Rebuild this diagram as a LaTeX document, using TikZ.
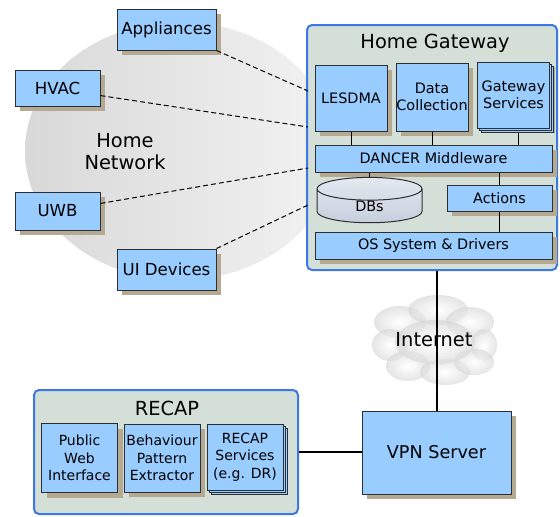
\documentclass[tikz,border=0pt]{standalone}
\usepackage{fontspec}
\setmainfont{DejaVu Sans}
\usetikzlibrary{shapes.geometric,shadows}
\definecolor{boxblue}{HTML}{99CCFF}
\definecolor{boxline}{HTML}{2B2F33}
\definecolor{shadowbrown}{HTML}{B5A991}
\definecolor{framefill}{HTML}{D4DFD8}
\definecolor{frameblue}{HTML}{3C78E6}
\definecolor{dbleft}{HTML}{E4E9F1}
\definecolor{dbright}{HTML}{C7CFDC}
\begin{document}
\begin{tikzpicture}[x=.5pt, y=-.5pt,
	box/.style={draw=boxline, fill=boxblue, line width=.5pt, inner sep=0pt, align=center,
		drop shadow={shadow xshift=2.5pt, shadow yshift=-2.5pt, fill=shadowbrown, opacity=1}},
	stack/.style={box, double copy shadow={shadow xshift=1pt, shadow yshift=-1pt}},
	frame/.style={draw=frameblue, fill=framefill, line width=1pt, rounded corners=2.5pt, inner sep=0pt},
	title/.style={font=\fontsize{9.7}{11}\selectfont},
	dev/.style={font=\fontsize{8.3}{10}\selectfont},
	inner/.style={font=\fontsize{7.2}{8.6}\selectfont},
	link/.style={draw=black, line width=.5pt},
	radio/.style={draw=black, line width=.5pt, dash pattern=on 2.5pt off 1.5pt}]
	\useasboundingbox (0,0) rectangle (560,516);
	%home network
	\shade[left color=gray!30, right color=gray!10] (180,151) ellipse [x radius=77.5pt, y radius=64.5pt];
	\node[align=center, font=\fontsize{9.7}{11}\selectfont] (homenet) at (125,152) {Home\\Network};
	%devices
	\node[box, dev, minimum width=49.5pt, minimum height=20.5pt] (appl) at (166.5,29.5) {Appliances};
	\node[box, dev, minimum width=42.5pt, minimum height=18pt] (hvac) at (57.5,88) {HVAC};
	\node[box, dev, minimum width=42.5pt, minimum height=19pt] (uwb) at (57.5,211) {UWB};
	\node[box, dev, minimum width=49.5pt, minimum height=20.5pt] (uidev) at (166.5,269.5) {UI Devices};
	%home gateway
	\node[frame, minimum width=125pt, minimum height=122.5pt] (gw) at (432,147.5) {};
	\node[title] (gwtitle) at (435,43) {Home Gateway};
	\node[box, inner, minimum width=36pt, minimum height=33pt] (lesdma) at (351,98) {LESDMA};
	\node[box, inner, minimum width=36pt, minimum height=34pt] (datacoll) at (432,97) {Data\\Collection};
	\node[stack, inner, minimum width=36pt, minimum height=33pt] (gwsrv) at (513.5,95) {Gateway\\Services};
	\node[box, inner, minimum width=118.5pt, minimum height=13.5pt] (dancer) at (433.5,158.5) {DANCER Middleware};
	\node[cylinder, shape border rotate=90, aspect=.8, draw=boxline, line width=.5pt,
		top color=dbleft, bottom color=dbright, inner sep=0pt, inner, 
		minimum width=52.5pt, minimum height=18pt] (dbs) at (369.5,206) {DBs};
	\node[box, inner, minimum width=52.5pt, minimum height=13pt] (actions) at (499.5,198) {Actions};
	\node[box, inner, minimum width=118.5pt, minimum height=13.5pt] (os) at (433.5,245.5) {OS System \& Drivers};
	%inner links
	\draw[link] (lesdma.south) -- (lesdma.south |- dancer.north);
	\draw[link] (datacoll.south) -- (datacoll.south |- dancer.north);
	\draw[link] ([xshift=2.5pt]gwsrv.south) ++(0,4) -- ([xshift=2.5pt]gwsrv.south |- dancer.north);
	\draw[link] (dbs.north) -- (dbs.north |- dancer.south);
	\draw[link] (actions.north) -- (actions.north |- dancer.south);
	\draw[link] (actions.south) -- (actions.south |- os.north);
	%radio links
	\coordinate (g1) at (308,91);
	\coordinate (g2) at (308,127);
	\coordinate (g3) at (308,168);
	\coordinate (g4) at (308,205);
	\draw[radio] (appl.south east) -- (g1);
	\draw[radio] (hvac.-10) -- (g2);
	\draw[radio] (uwb.10) -- (g3);
	\draw[radio] (uidev.north east) -- (g4);
	%internet
	\foreach \cx/\cy/\rx/\ry in {400/322/13/8, 438/310/15/7.5, 470/322/12/7.5, 390/345/9/8,
		484/345/6.5/8, 408/366/11/7.5, 445/372/12.5/6.5, 474/362/10/6.5, 435/342/20/11}
	\shade[inner color=white, outer color=gray!30, opacity=.7] (\cx,\cy) ellipse [x radius=\rx pt, y radius=\ry pt];
	\node[title] (inet) at (434,340) {Internet};
	%vpn and recap
	\node[box, minimum width=74.5pt, minimum height=41.5pt, font=\fontsize{8.8}{10}\selectfont] (vpn) at (436.5,452.5) {VPN Server};
	\node[frame, minimum width=132pt, minimum height=62pt] (recap) at (166,452) {};
	\node[title] (recaptitle) at (167,408) {RECAP};
	\node[box, inner, font=\fontsize{7}{8.8}\selectfont, minimum width=38pt, minimum height=34.5pt] (pwi) at (79.5,458) {Public\\Web\\Interface};
	\node[box, inner, font=\fontsize{7}{8.8}\selectfont, minimum width=38pt, minimum height=34pt] (bpe) at (162,458) {Behaviour\\Pattern\\Extractor};
	\node[stack, inner, font=\fontsize{7}{8.8}\selectfont, minimum width=38pt, minimum height=33pt] (rsrv) at (245,457) {RECAP\\Services\\(e.g. DR)};
	%wan links
	\draw[line width=1pt] (vpn.north |- gw.south) -- (vpn.north);
	\draw[line width=1pt] (recap.east) -- (recap.east -| vpn.west);
\end{tikzpicture}
\end{document}
